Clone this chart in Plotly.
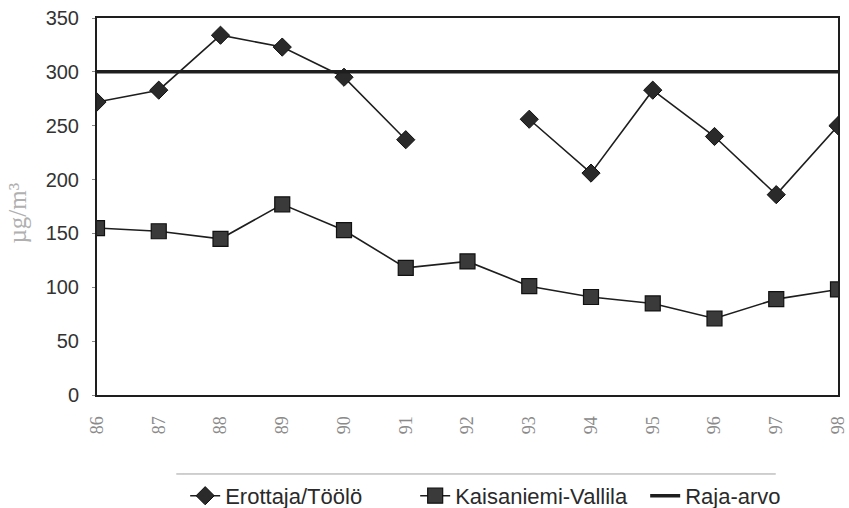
import plotly.graph_objects as go

# Annual values, µg/m³
years = ["86", "87", "88", "89", "90", "91", "92", "93", "94", "95", "96", "97", "98"]
erottaja_toolo = [272, 283, 334, 323, 295, 237, None, 256, 206, 283, 240, 186, 250]
kaisaniemi_vallila = [155, 152, 145, 177, 153, 118, 124, 101, 91, 85, 71, 89, 98]
raja_arvo = [300] * len(years)

y_ticks = [0, 50, 100, 150, 200, 250, 300, 350]

font_family = "Liberation Sans, Arial, sans-serif"
line_col = "#1e1e1e"

fig = go.Figure()

fig.add_trace(go.Scatter(
    x=years, y=erottaja_toolo, name="Erottaja/Töölö",
    mode="lines+markers", connectgaps=False,
    line=dict(color=line_col, width=1.6),
    marker=dict(symbol="diamond", size=14, color="#2a2a2a",
                line=dict(color="#111", width=1)),
))
fig.add_trace(go.Scatter(
    x=years, y=kaisaniemi_vallila, name="Kaisaniemi-Vallila",
    mode="lines+markers",
    line=dict(color=line_col, width=1.6),
    marker=dict(symbol="square", size=15, color="#3a3a3a",
                line=dict(color="#111", width=1.2)),
))
fig.add_trace(go.Scatter(
    x=years, y=raja_arvo, name="Raja-arvo",
    mode="lines",
    line=dict(color=line_col, width=3.5),
))

fig.update_layout(
    width=849, height=508,
    margin=dict(l=97, r=11, t=18, b=113, autoexpand=False),
    paper_bgcolor="white", plot_bgcolor="white",
    font=dict(family=font_family, color="#333"),
    showlegend=True,
    legend=dict(
        orientation="h", x=0.119, xanchor="left", y=-0.212, yanchor="top",
        font=dict(size=22, color="#2a2a2a", family=font_family),
        itemwidth=30, entrywidth=185, entrywidthmode="pixels",
        bgcolor="rgba(0,0,0,0)",
    ),
    shapes=[dict(
        type="line", xref="paper", yref="paper",
        x0=0.107, x1=0.916, y0=-0.2095, y1=-0.2095,
        line=dict(color="#a0a0a0", width=1),
    )],
    annotations=[dict(
        text="µg/m³", xref="paper", yref="paper",
        x=-0.107, y=0.483, xanchor="center", yanchor="middle",
        textangle=-90, showarrow=False,
        font=dict(size=25, color="#b0b0b0", family="Liberation Serif, serif"),
    )],
)

fig.update_xaxes(
    type="category", range=[0, 12],
    showline=True, linecolor=line_col, linewidth=2, mirror=True,
    showgrid=False, zeroline=False,
    ticks="", tickangle=-90, ticklabelstandoff=12,
    tickfont=dict(size=18, color="#8a8a8a", family="Liberation Serif, serif"),
)
fig.update_yaxes(
    range=[0, 350], tickvals=y_ticks,
    showline=True, linecolor=line_col, linewidth=2, mirror=True,
    showgrid=False, zeroline=False,
    ticks="outside", ticklen=3, tickcolor="#888", ticklabelstandoff=9,
    tickfont=dict(size=20, color="#333", family=font_family),
)

fig.write_html("out.html")
